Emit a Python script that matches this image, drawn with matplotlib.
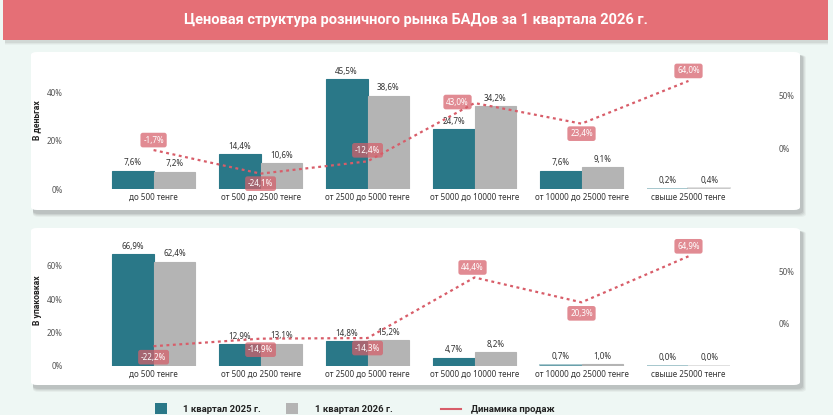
import matplotlib
matplotlib.use("Agg")
import matplotlib.pyplot as plt
import numpy as np
from matplotlib.patches import FancyBboxPatch, Rectangle
from matplotlib.lines import Line2D

plt.rcParams["font.family"] = ["Noto Sans", "DejaVu Sans"]
BOLD = ["Roboto", "DejaVu Sans"]

# ---- data ----
categories = [
    "до 500 тенге",
    "от 500 до 2500 тенге",
    "от 2500 до 5000 тенге",
    "от 5000 до 10000 тенге",
    "от 10000 до 25000 тенге",
    "свыше 25000 тенге",
]
money_2025 = [7.6, 14.4, 45.5, 24.7, 7.6, 0.2]
money_2026 = [7.2, 10.6, 38.6, 34.2, 9.1, 0.4]
money_dynamic = [-1.7, -24.1, -12.4, 43.0, 23.4, 64.0]

packs_2025 = [66.9, 12.9, 14.8, 4.7, 0.7, 0.0]
packs_2026 = [62.4, 13.1, 15.2, 8.2, 1.0, 0.0]
packs_dynamic = [-22.2, -14.9, -14.3, 44.4, 20.3, 64.9]

series_names = ["1 квартал 2025 г.", "1 квартал 2026 г.", "Динамика продаж"]
title = "Ценовая структура розничного рынка БАДов за 1 квартала 2026 г."

# ---- style ----
colors = {
    "bg": "#eef7f4",
    "banner": "#e56f76",
    "q2025": "#2a7888",
    "q2026": "#b4b4b4",
    "line": "#d85d69",
    "label_box": "#d65f6a",
    "text": "#333333",
    "tick": "#555555",
}

W, H = 833, 415
fig = plt.figure(figsize=(W / 100, H / 100), dpi=100)
fig.patch.set_facecolor(colors["bg"])


def fx(px):
    return px / W


def fy(py):
    return 1 - py / H


def shadow_box(x0, y0, x1, y1, face, rounding=6):
    """Rounded box in pixel coords with a soft drop shadow."""
    for i, a in enumerate([0.06, 0.08, 0.10, 0.12]):
        d = 4 - i
        fig.patches.append(FancyBboxPatch(
            (fx(x0 + 2), fy(y1 + 3) - d / H), fx(x1 - x0) + d / W, (y1 - y0 + d) / H,
            boxstyle=f"round,pad=0,rounding_size={rounding / W}",
            transform=fig.transFigure, facecolor="#555555", edgecolor="none",
            alpha=a, zorder=0))
    fig.patches.append(FancyBboxPatch(
        (fx(x0), fy(y1)), fx(x1 - x0), (y1 - y0) / H,
        boxstyle=f"round,pad=0,rounding_size={rounding / W}",
        transform=fig.transFigure, facecolor=face, edgecolor="none", zorder=1))


# title banner
for i, a in enumerate([0.05, 0.08, 0.12]):
    d = 4 - i
    fig.patches.append(Rectangle((fx(5), fy(41 + d)), fx(823), 41 / H,
                                 transform=fig.transFigure, facecolor="#777777",
                                 edgecolor="none", alpha=a, zorder=0))
fig.patches.append(Rectangle((fx(3), fy(40)), fx(825), 40 / H, transform=fig.transFigure,
                             facecolor=colors["banner"], edgecolor="none", zorder=1))
fig.text(fx(416), fy(20), title, color="white", fontsize=10.5, fontweight="bold",
         family=BOLD, ha="center", va="center", zorder=3)

# panels
shadow_box(31, 52, 800, 210, "white")
shadow_box(31, 228, 800, 385, "white")


def fmt(v):
    return f"{v:.1f}%".replace(".", ",")


def draw_panel(top, base, left_lim, right_lim, left_ticks, s1, s2, dyn, offsets, ylabel, label_y):
    ax = fig.add_axes([fx(68), fy(base), fx(773 - 68), (base - top) / H])
    ax.set_facecolor("none")
    ax.set_zorder(3)
    x = np.arange(len(categories))
    width = 0.39
    for vals, col, shift in [(s1, colors["q2025"], -width / 2), (s2, colors["q2026"], width / 2)]:
        for xi, v in zip(x, vals):
            # tiny shares are drawn as a faint baseline strip, like in the original report
            small = v < 1
            ax.bar(xi + shift, v, width, color=col, edgecolor=col,
                   linewidth=1.3 if small else 0.8, alpha=0.45 if small else 1.0, zorder=2)
            ax.annotate(fmt(v), (xi + shift, v), xytext=(0, 8), textcoords="offset pixels",
                        ha="center", va="center", fontsize=5.8, color=colors["text"], zorder=4)
    ax.set_xlim(-0.80, 5.79)
    ax.set_ylim(*left_lim)
    ax.set_xticks(x)
    ax.set_xticklabels(categories, fontsize=5.8, color=colors["text"])
    ax.set_yticks(left_ticks)
    ax.set_yticklabels([f"{t}%" for t in left_ticks], fontsize=5.8, color=colors["tick"])
    ax.tick_params(length=0, pad=4)
    ax.tick_params(axis="x", pad=3)
    for s in ax.spines.values():
        s.set_visible(False)

    ax2 = ax.twinx()
    ax2.set_ylim(*right_lim)
    ax2.plot(x, dyn, color=colors["line"], linewidth=1.6, dashes=(1.3, 1.6), zorder=5)
    for xi, v, off in zip(x, dyn, offsets):
        ax2.annotate(fmt(v), (xi, v), xytext=off, textcoords="offset pixels",
                     ha="center", va="center", fontsize=5.8, color="white", zorder=6,
                     bbox=dict(boxstyle="round,pad=0.35,rounding_size=0.3",
                               facecolor=colors["label_box"], edgecolor="none", alpha=0.72))
    ax2.set_yticks([0, 50])
    ax2.set_yticklabels(["0%", "50%"], fontsize=5.8, color=colors["tick"])
    ax2.tick_params(length=0, pad=4)
    for s in ax2.spines.values():
        s.set_visible(False)

    fig.text(fx(37), fy(label_y), ylabel, rotation=90, fontsize=6.2, fontweight="bold",
             family=BOLD, color="#222222", ha="center", va="center")


draw_panel(60, 189, (0, 53.4), (-38.7, 83.9), [0, 20, 40],
           money_2025, money_2026, money_dynamic,
           [(0, 10), (0, -10), (0, 11), (-17, 1), (0, -10), (0, 10)],
           "В деньгах", 120)
draw_panel(240, 365.7, (0, 75.4), (-41.1, 80.7), [0, 20, 40, 60],
           packs_2025, packs_2026, packs_dynamic,
           [(0, -11), (0, -11), (0, -10), (-2, 10), (0, -11), (0, 10)],
           "В упаковках", 300)

# legend
fig.patches.append(Rectangle((fx(155), fy(414)), fx(12), 11 / H, transform=fig.transFigure,
                             facecolor=colors["q2025"], edgecolor="none"))
fig.text(fx(183), fy(409), series_names[0], fontsize=6.8, fontweight="bold",
         family=BOLD, color="#222222", va="center")
fig.patches.append(Rectangle((fx(286), fy(414)), fx(12), 11 / H, transform=fig.transFigure,
                             facecolor=colors["q2026"], edgecolor="none"))
fig.text(fx(315), fy(409), series_names[1], fontsize=6.8, fontweight="bold",
         family=BOLD, color="#222222", va="center")
fig.lines.append(Line2D([fx(441), fx(461)], [fy(409), fy(409)], transform=fig.transFigure,
                        color=colors["line"], linewidth=1.5))
fig.text(fx(471), fy(409), series_names[2], fontsize=6.8, fontweight="bold",
         family=BOLD, color="#222222", va="center")

fig.savefig("out.png", dpi=100, facecolor=fig.get_facecolor())
